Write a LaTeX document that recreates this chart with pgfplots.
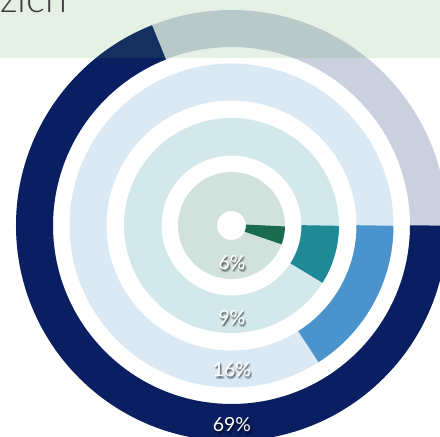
\documentclass[border=0pt]{standalone}
\usepackage{pgfplots}
\pgfplotsset{compat=1.18}
\usepackage{fontspec}
\setmainfont{Lato}
\newfontfamily\latolight{Lato Light}
\definecolor{navy}{HTML}{0A1E62}
\definecolor{midblue}{HTML}{4A93CC}
\definecolor{teal}{HTML}{1F8A95}
\definecolor{dkgreen}{HTML}{1B6B4E}
\definecolor{bandgreen}{HTML}{4C9E4E}
\definecolor{titlegray}{HTML}{3C3C3C}
\newcommand\pctlabel[2]{%
  \node[anchor=base, font=\fontsize{19.5}{22}\selectfont, text=black, opacity=0.12, xshift=2.2bp, yshift=-2.4bp] at (axis cs:#1) {#2};
  \node[anchor=base, font=\fontsize{19.5}{22}\selectfont, text=black, opacity=0.14, xshift=0.4bp, yshift=-2.2bp] at (axis cs:#1) {#2};
  \node[anchor=base, font=\fontsize{19.5}{22}\selectfont, text=black, opacity=0.16, xshift=1.8bp, yshift=-0.6bp] at (axis cs:#1) {#2};
  \node[anchor=base, font=\fontsize{19.5}{22}\selectfont, text=black, opacity=0.3, xshift=1bp, yshift=-1.3bp] at (axis cs:#1) {#2};
  \node[anchor=base, font=\fontsize{19.5}{22}\selectfont, text=white] at (axis cs:#1) {#2};
}
\begin{document}
\begin{tikzpicture}
\clip (0,0) rectangle (440bp,437bp);
\begin{axis}[
  x=1bp, y=1bp,
  xmin=-231.5, xmax=208.5,
  ymin=-211.5, ymax=225.5,
  hide axis,
  clip=true,
  at={(231.5bp,211.5bp)}, anchor=origin,
]
% background tracks (value = 100%)
\draw[navy!21, line width=37bp] (axis cs:0,0) circle[radius=197bp];
\draw[midblue!20, line width=37bp] (axis cs:0,0) circle[radius=143.5bp];
\draw[teal!20, line width=37.5bp] (axis cs:0,0) circle[radius=88.75bp];
\draw[dkgreen!20, line width=39bp] (axis cs:0,0) circle[radius=34bp];
% value arcs, clockwise from 3 o'clock: pct * 3.6 degrees
\draw[navy, line width=37bp] (axis cs:197,0) arc[start angle=0, delta angle={-3.6*69}, radius=197bp];
\draw[midblue, line width=37bp] (axis cs:143.5,0) arc[start angle=0, delta angle={-3.6*16}, radius=143.5bp];
\draw[teal, line width=37.5bp] (axis cs:88.75,0) arc[start angle=0, delta angle={-3.6*9}, radius=88.75bp];
\draw[dkgreen, line width=39bp] (axis cs:34,0) arc[start angle=0, delta angle={-3.6*6}, radius=34bp];
% header band
\fill[bandgreen, opacity=0.14] (axis cs:-240,167.5) rectangle (axis cs:220,230);
\node[anchor=base west, inner sep=0pt, font=\latolight\fontsize{40}{48}\selectfont, text=titlegray] at (axis cs:-231.5,212.5) {zich};
% labels
\pctlabel{0.5,-44.5}{6\%}
\pctlabel{0.5,-99.5}{9\%}
\pctlabel{0.5,-151.5}{16\%}
\pctlabel{0.5,-206.5}{69\%}
\end{axis}
\end{tikzpicture}
\end{document}
